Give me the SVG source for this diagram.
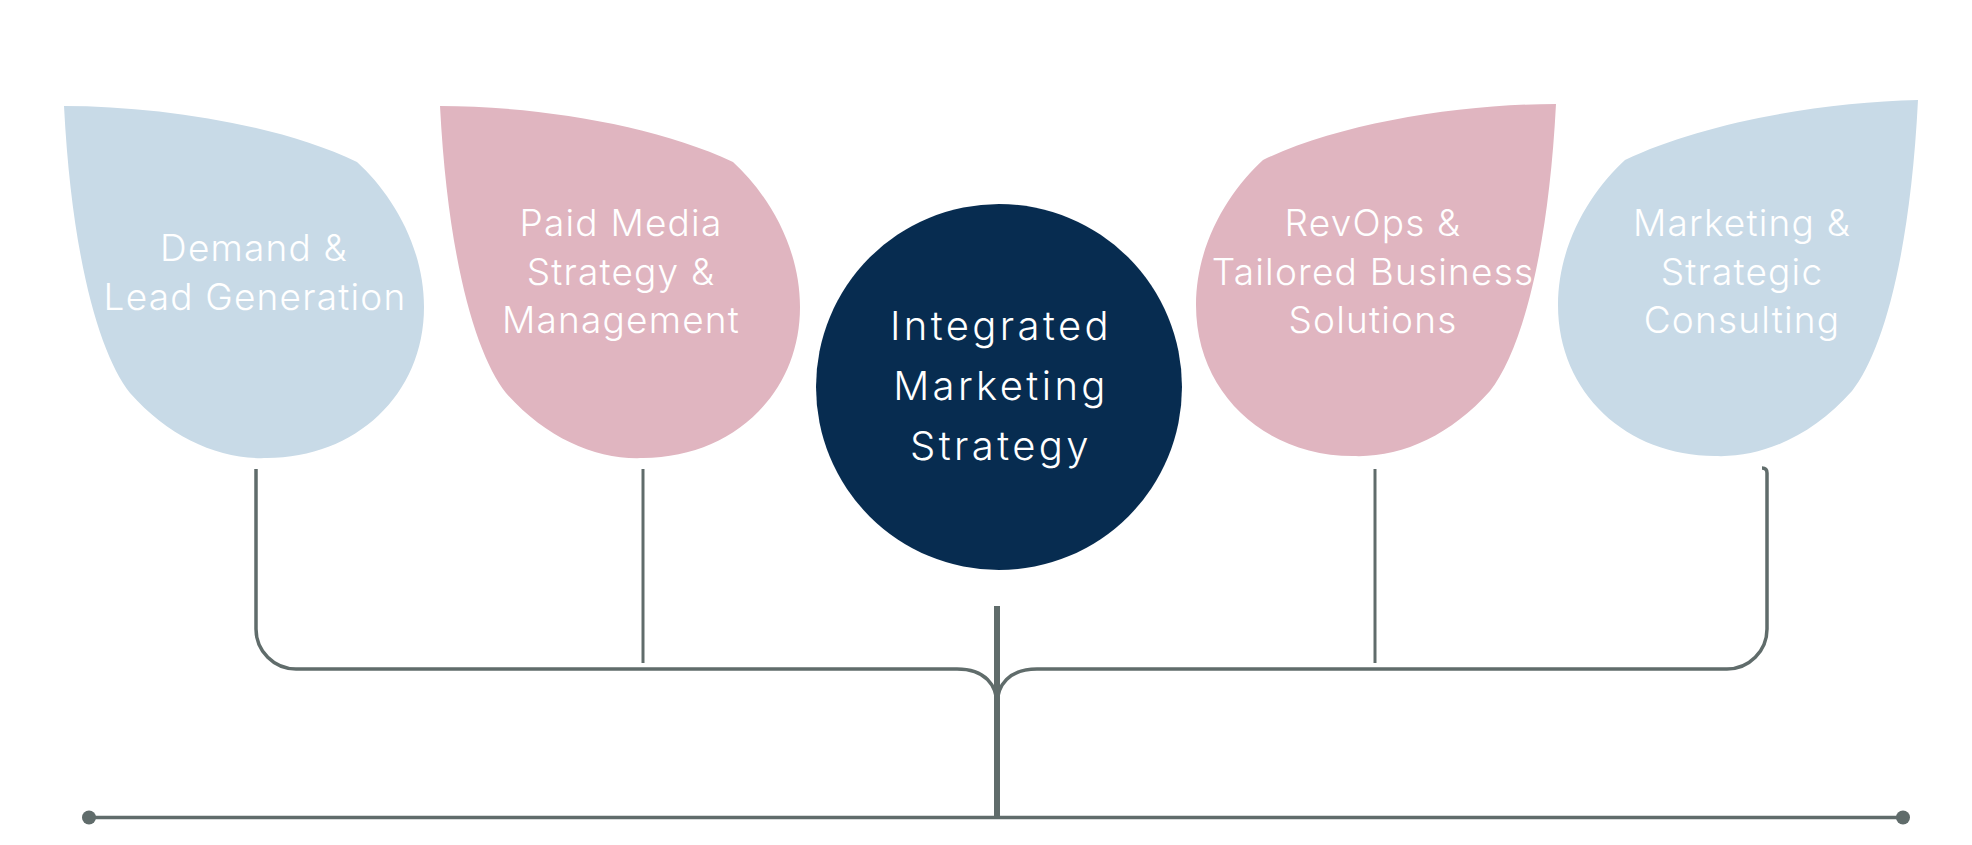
<svg xmlns="http://www.w3.org/2000/svg" width="1972" height="845" viewBox="0 0 1972 845">
  <style>
    .blue { fill: #c8dae7; }
    .pink { fill: #e0b5c0; }
    .core { fill: #072c50; }
    .lbl { font-family: Inter, "Open Sans", "Liberation Sans", sans-serif; fill: #ffffff; text-anchor: middle; }
    .leaf-t { font-size: 37px; font-weight: 300; letter-spacing: 1.2px; }
    .core-t { font-size: 40px; font-weight: 300; letter-spacing: 3.4px; }
    .wire { fill: none; stroke: #606c6b; stroke-width: 3.5; stroke-linecap: butt; }
    .thin { stroke-width: 3; }
    .trunk { stroke-width: 6; }
    .dot { fill: #606c6b; }
  </style>
  <rect width="1972" height="845" fill="#ffffff"/>

  <g id="connectors">
    <path class="wire" d="M256,469 V629 A40,40 0 0 0 296,669 H957 C985,669 997,685 997,705"/>
    <path class="wire" d="M1762,468 Q1767,468 1767,473 V629 A40,40 0 0 1 1727,669 H1037 C1009,669 997,685 997,705"/>
    <path class="wire thin" d="M643,469 V663"/>
    <path class="wire thin" d="M1375,469 V663"/>
    <path class="wire trunk" d="M997,606 V818"/>
    <path class="wire" d="M89,817.5 H1903"/>
    <circle class="dot" cx="89" cy="817.5" r="7"/>
    <circle class="dot" cx="1903" cy="817.5" r="7"/>
  </g>

  <g id="node-demand">
    <path class="blue" d="M64,106 C160,106 280,125 357,162 C390,192 424,245 424,307 C424,395 355,458 267,458 C220,460 170,438 130,393 C100,355 72,260 64,106 Z"/>
    <text class="lbl leaf-t" x="254" y="261">Demand &amp;</text>
    <text class="lbl leaf-t" x="255" y="309.5">Lead Generation</text>
  </g>

  <g id="node-paid-media">
    <path class="pink" d="M440,106 C536,106 656,125 733,162 C766,192 800,245 800,307 C800,395 731,458 643,458 C596,460 546,438 506,393 C476,355 448,260 440,106 Z"/>
    <text class="lbl leaf-t" x="621" y="236">Paid Media</text>
    <text class="lbl leaf-t" x="621" y="284.5">Strategy &amp;</text>
    <text class="lbl leaf-t" x="621" y="333">Management</text>
  </g>

  <g id="node-integrated">
    <circle class="core" cx="999" cy="387" r="183"/>
    <text class="lbl core-t" x="1001" y="340">Integrated</text>
    <text class="lbl core-t" x="1001" y="400">Marketing</text>
    <text class="lbl core-t" x="1001" y="459.5">Strategy</text>
  </g>

  <g id="node-revops">
    <path class="pink" d="M1556,104 C1460,104 1340,123 1263,160 C1230,190 1196,243 1196,305 C1196,393 1265,456 1353,456 C1400,458 1450,436 1490,391 C1520,353 1548,258 1556,104 Z"/>
    <text class="lbl leaf-t" x="1373" y="236">RevOps &amp;</text>
    <text class="lbl leaf-t" x="1373" y="284.5">Tailored Business</text>
    <text class="lbl leaf-t" x="1373" y="333">Solutions</text>
  </g>

  <g id="node-consulting">
    <path class="blue" d="M1918,100 C1822,102 1702,123 1625,160 C1592,190 1558,243 1558,305 C1558,393 1627,456 1715,456 C1762,458 1812,436 1852,391 C1882,353 1910,258 1918,100 Z"/>
    <text class="lbl leaf-t" x="1742" y="236">Marketing &amp;</text>
    <text class="lbl leaf-t" x="1742" y="284.5">Strategic</text>
    <text class="lbl leaf-t" x="1742" y="333">Consulting</text>
  </g>
</svg>
